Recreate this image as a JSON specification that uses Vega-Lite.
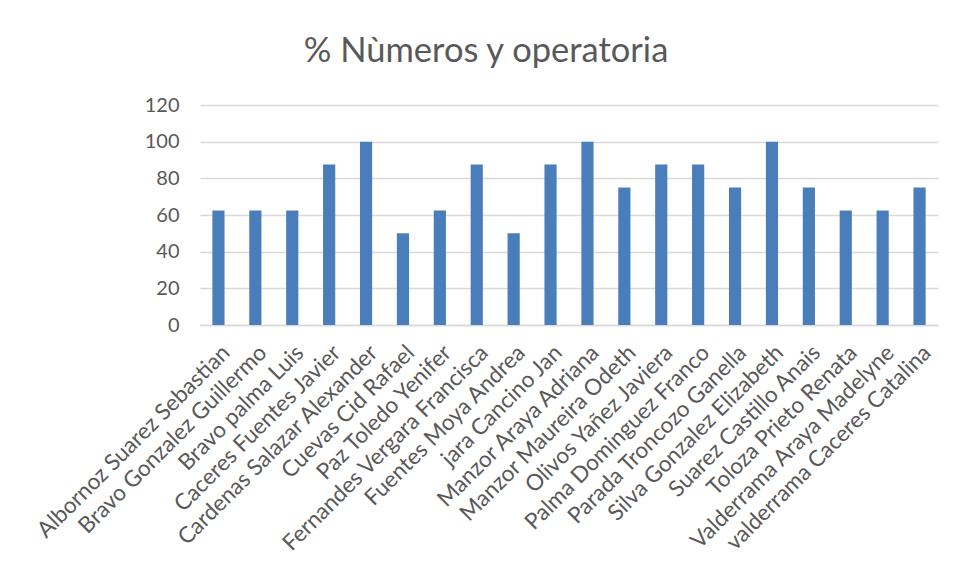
{
  "$schema": "https://vega.github.io/schema/vega-lite/v6.json",
  "width": 738,
  "height": 220,
  "autosize": {"type": "none"},
  "padding": {"left": 200, "top": 105, "right": 15, "bottom": 255},
  "background": "white",
  "title": {
    "text": "% Nùmeros y operatoria",
    "font": "Lato",
    "fontSize": 34.5,
    "fontWeight": "normal",
    "color": "#595959",
    "anchor": "middle",
    "dx": -83,
    "offset": 26
  },
  "data": {
    "values": [
      {"nombre": "Albornoz Suarez Sebastian", "pct": 62.5},
      {"nombre": "Bravo Gonzalez Guillermo", "pct": 62.5},
      {"nombre": "Bravo palma Luis", "pct": 62.5},
      {"nombre": "Caceres Fuentes  Javier", "pct": 87.5},
      {"nombre": "Cardenas Salazar Alexander", "pct": 100},
      {"nombre": "Cuevas Cid Rafael", "pct": 50},
      {"nombre": "Paz Toledo Yenifer", "pct": 62.5},
      {"nombre": "Fernandes Vergara Francisca", "pct": 87.5},
      {"nombre": "Fuentes Moya Andrea", "pct": 50},
      {"nombre": "jara Cancino Jan", "pct": 87.5},
      {"nombre": "Manzor Araya Adriana", "pct": 100},
      {"nombre": "Manzor Maureira Odeth", "pct": 75},
      {"nombre": "Olivos Yañez Javiera", "pct": 87.5},
      {"nombre": "Palma Dominguez Franco", "pct": 87.5},
      {"nombre": "Parada Troncozo Ganella", "pct": 75},
      {"nombre": "Silva Gonzalez Elizabeth", "pct": 100},
      {"nombre": "Suarez Castillo Anais", "pct": 75},
      {"nombre": "Toloza Prieto Renata", "pct": 62.5},
      {"nombre": "Valderrama Araya Madelyne", "pct": 62.5},
      {"nombre": "valderrama Caceres Catalina", "pct": 75}
    ]
  },
  "mark": {"type": "bar", "color": "#4a7ebb"},
  "encoding": {
    "x": {
      "field": "nombre",
      "type": "nominal",
      "sort": null,
      "scale": {"paddingInner": 0.67, "paddingOuter": 0.335},
      "axis": {
        "title": null,
        "labelAngle": -45,
        "labelFont": "Lato",
        "labelFontSize": 22.5,
        "labelColor": "#595959",
        "labelPadding": 16,
        "labelLimit": 500,
        "ticks": false,
        "domainColor": "#d9d9d9",
        "domainWidth": 1.5
      }
    },
    "y": {
      "field": "pct",
      "type": "quantitative",
      "scale": {"domain": [0, 120], "nice": false},
      "axis": {
        "title": null,
        "values": [0, 20, 40, 60, 80, 100, 120],
        "labelFont": "Lato",
        "labelFontSize": 20,
        "labelColor": "#595959",
        "labelPadding": 21,
        "ticks": false,
        "domain": false,
        "gridColor": "#d9d9d9",
        "gridWidth": 1.5
      }
    }
  },
  "config": {"view": {"stroke": null}}
}
